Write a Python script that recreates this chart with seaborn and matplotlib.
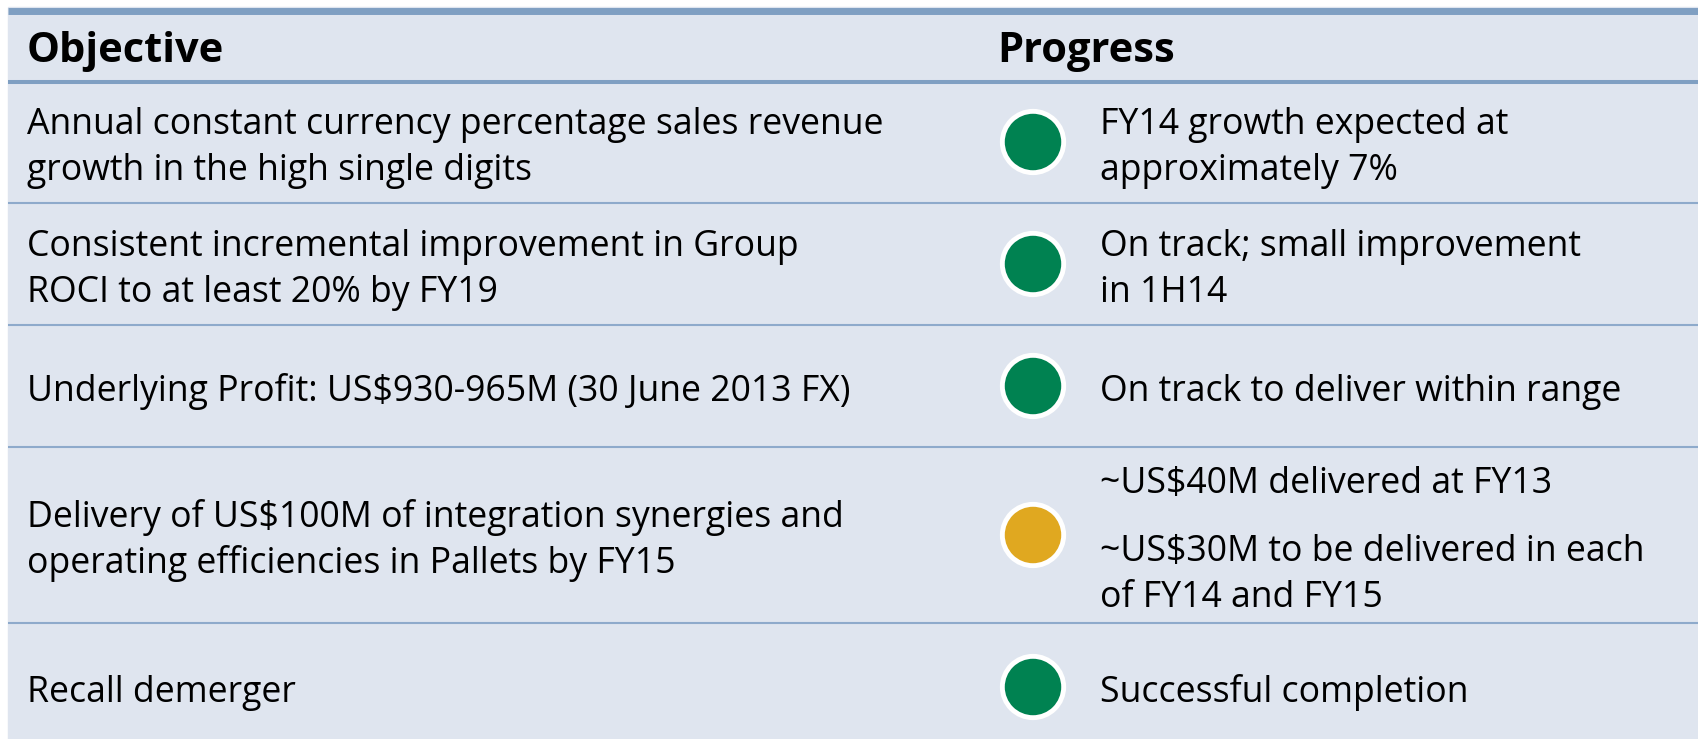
#!/usr/bin/env python3
"""
Таблица целей и прогресса: цели слева, статус-кружки и комментарии справа.
"""

import pandas as pd
import matplotlib.pyplot as plt
import seaborn as sns

# Данные таблицы
headers = ["Objective", "Progress"]
objectives = [
    "Annual constant currency percentage sales revenue\ngrowth in the high single digits",
    "Consistent incremental improvement in Group\nROCI to at least 20% by FY19",
    "Underlying Profit: US$930-965M (30 June 2013 FX)",
    "Delivery of US$100M of integration synergies and\noperating efficiencies in Pallets by FY15",
    "Recall demerger",
]
progress = [
    ["FY14 growth expected at\napproximately 7%"],
    ["On track; small improvement\nin 1H14"],
    ["On track to deliver within range"],
    ["~US$40M delivered at FY13", "~US$30M to be delivered in each\nof FY14 and FY15"],
    ["Successful completion"],
]
status = ["green", "green", "green", "amber", "green"]

# Оформление (в пикселях картинки)
W, H = 1698, 739
row_edges = [81, 203, 325, 447, 623, 751]   # последняя строка обрезана снизу
x_obj, x_dot, x_prog = 27, 1033, 1100
line_h, para_gap = 46, 22
bg = "#dfe5ef"
rule = "#7f9fc2"
status_colors = {"green": "#008251", "amber": "#e0a820"}

sns.set_theme(style="white")
plt.rcParams["font.family"] = ["Open Sans", "DejaVu Sans"]

fig = plt.figure(figsize=(W / 100, H / 100), dpi=100)
ax = fig.add_axes([0, 0, 1, 1])
ax.set_xlim(0, W)
ax.set_ylim(H, 0)
ax.axis("off")

# Фон и линии
ax.add_patch(plt.Rectangle((8, 7), W - 8, H - 7, color=bg, zorder=0))
ax.hlines(10.5, 8, W, color=rule, lw=5.0, zorder=1)
ax.hlines(81.5, 8, W, color=rule, lw=2.9, zorder=1)
for y in row_edges[1:-1]:
    ax.hlines(y, 8, W, color="#8eaacb", lw=1.5, zorder=1)

# Заголовки
ax.text(x_obj, 62, headers[0], fontsize=30, fontweight="bold", color="black")
ax.text(997, 62, headers[1], fontsize=30, fontweight="bold", color="black")

centers = [(a + b) / 2 for a, b in zip(row_edges[:-1], row_edges[1:])]


def draw_lines(x, center, paragraphs):
    lines = []
    for p_i, para in enumerate(paragraphs):
        for line in para.split("\n"):
            lines.append((line, p_i))
    total = (len(lines) - 1) * line_h + (len(paragraphs) - 1) * para_gap
    y = center + 15 - total / 2
    prev_para = 0
    for line, p_i in lines:
        if p_i != prev_para:
            y += para_gap
            prev_para = p_i
        ax.text(x, y, line, fontsize=25.7, color="black", va="baseline")
        y += line_h


for i in range(len(objectives)):
    draw_lines(x_obj, centers[i], [objectives[i]])
    draw_lines(x_prog, centers[i], progress[i])

# Кружки статуса
df = pd.DataFrame({"x": [x_dot] * len(status), "y": centers, "status": status})
sns.scatterplot(data=df, x="x", y="y", hue="status", palette=status_colors,
                s=1950, edgecolor="white", linewidth=3.5, legend=False, ax=ax, zorder=3)
ax.set_xlim(0, W)
ax.set_ylim(H, 0)
ax.axis("off")

plt.savefig("out.png", dpi=100)
